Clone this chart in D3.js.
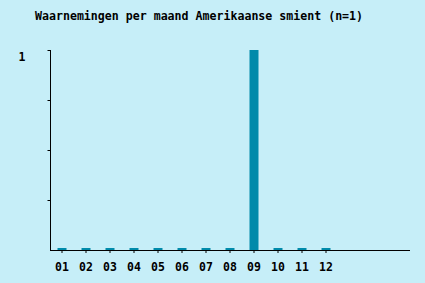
<!DOCTYPE html>
<html>
<head>
<meta charset="utf-8">
<script src="https://cdn.jsdelivr.net/npm/d3@7"></script>
<style>
  body { margin: 0; background: #c6eef8; }
  text { font-family: "DejaVu Sans Mono", monospace; font-weight: bold; fill: #000; }
</style>
</head>
<body>
<div id="chart"></div>
<script>
var svgWidth = 425;
var svgHeight = 283;

// data
var months = ["01", "02", "03", "04", "05", "06", "07", "08", "09", "10", "11", "12"];
var counts = [0, 0, 0, 0, 0, 0, 0, 0, 1, 0, 0, 0];
var title = "Waarnemingen per maand Amerikaanse smient (n=1)";

var SVG = d3.select("#chart")
  .append("svg")
  .attr("width", svgWidth)
  .attr("height", svgHeight);

SVG.append("rect")
  .attr("width", svgWidth)
  .attr("height", svgHeight)
  .attr("fill", "#c6eef8");

var x = d3.scaleBand()
  .domain(months)
  .range([50, 338])
  .paddingInner(0.625)
  .paddingOuter(0.3125);

var y = d3.scaleLinear()
  .domain([0, 1])
  .range([250, 50]);

// title
SVG.append("text")
  .attr("x", 35)
  .attr("y", 20)
  .attr("font-size", "11.6px")
  .text(title);

// bars (empty months get a thin stub)
SVG.selectAll(".bar")
  .data(counts)
  .enter()
  .append("rect")
  .attr("class", "bar")
  .attr("x", (d, i) => x(months[i]))
  .attr("width", x.bandwidth())
  .attr("y", d => Math.min(y(d), 248))
  .attr("height", d => Math.max(250 - y(d), 2))
  .attr("fill", "#008aaa");

// x axis
var xAxis = d3.axisBottom(x).tickSize(3).tickPadding(10);
var gx = SVG.append("g")
  .attr("transform", "translate(0,250)")
  .call(xAxis);
gx.select(".domain").remove();
gx.selectAll("text").attr("font-size", "11.5px").style("font-family", null);
gx.selectAll("line").attr("stroke", "#000");

SVG.append("line")
  .attr("x1", 50).attr("x2", 410)
  .attr("y1", 250.5).attr("y2", 250.5)
  .attr("stroke", "#000");

// y axis
var yAxis = d3.axisLeft(y)
  .tickValues([0.25, 0.5, 0.75, 1])
  .tickSize(3)
  .tickPadding(22)
  .tickFormat(d => d === 1 ? "1" : "");
var gy = SVG.append("g")
  .attr("transform", "translate(50.5,0)")
  .call(yAxis);
gy.select(".domain").remove();
gy.selectAll("text").attr("font-size", "11.5px").attr("dy", "0.95em").style("font-family", null);
gy.selectAll("line").attr("stroke", "#000");

SVG.append("line")
  .attr("x1", 50.5).attr("x2", 50.5)
  .attr("y1", 50).attr("y2", 250)
  .attr("stroke", "#000");
</script>
</body>
</html>
